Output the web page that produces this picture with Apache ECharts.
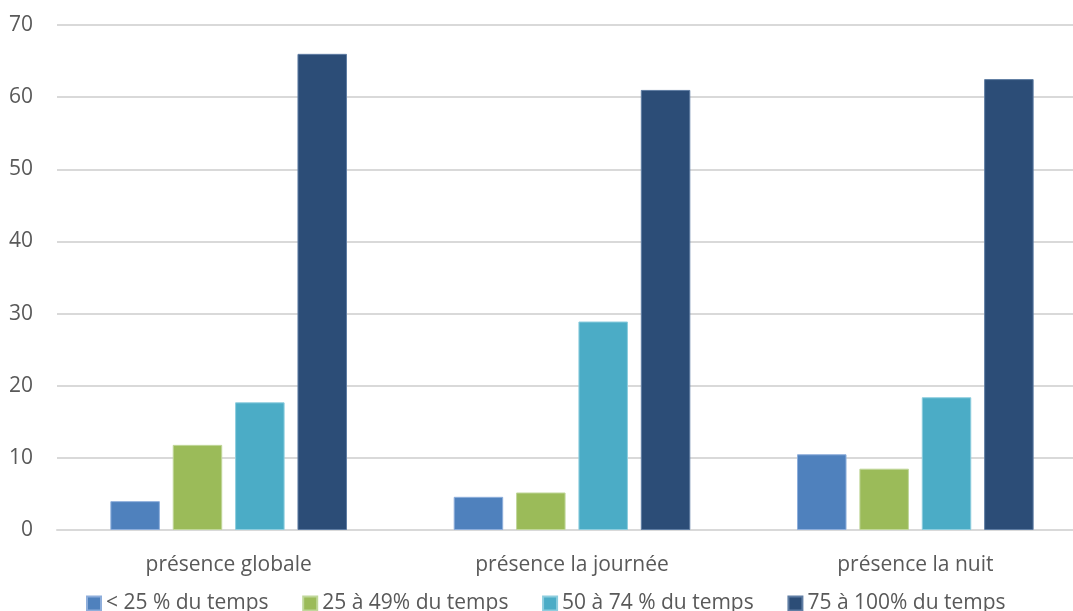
<!DOCTYPE html>
<html>
<head>
<meta charset="utf-8">
<script src="https://cdn.jsdelivr.net/npm/echarts@6/dist/echarts.min.js"></script>
<style>
  html, body { margin: 0; padding: 0; background: #fff; }
  #chart { width: 1073px; height: 611px; }
</style>
</head>
<body>
<div id="chart"></div>
<script>
const categories = ['présence globale', 'présence la journée', 'présence la nuit'];
const seriesNames = ['< 25 % du temps', '25 à 49% du temps', '50 à 74 % du temps', '75 à 100% du temps'];
const under25 = [4.0, 4.6, 10.5];
const from25to49 = [11.8, 5.2, 8.5];
const from50to74 = [17.7, 28.9, 18.4];
const from75to100 = [66.0, 61.0, 62.5];
const yTicks = [0, 10, 20, 30, 40, 50, 60, 70];

const colors = ['#4F81BD', '#9BBB59', '#4BACC6', '#2C4D77'];
const borders = ['#8EAEDB', '#C0D79A', '#8DCDDE', '#5F7DA3'];
const values = [under25, from25to49, from50to74, from75to100];
const font = '"Open Sans", "Noto Sans", sans-serif';

const chart = echarts.init(document.getElementById('chart'), null, { renderer: 'canvas' });
chart.setOption({
  animation: false,
  backgroundColor: '#ffffff',
  textStyle: { fontFamily: font },
  grid: { left: 57, right: -14, top: 25, bottom: 81, containLabel: false, outerBoundsMode: 'none' },
  legend: {
    left: 86,
    top: 593,
    padding: 0,
    itemWidth: 14,
    itemHeight: 14,
    itemGap: 33.7,
    icon: 'rect',
    textStyle: { color: '#595959', fontSize: 21, fontFamily: font },
    data: seriesNames
  },
  xAxis: {
    type: 'category',
    data: categories,
    axisLine: { show: true, lineStyle: { color: '#D9D9D9', width: 2 } },
    axisTick: { show: false },
    axisLabel: { color: '#595959', fontSize: 21, fontFamily: font, margin: 25 }
  },
  yAxis: {
    type: 'value',
    min: yTicks[0],
    max: yTicks[yTicks.length - 1],
    interval: yTicks[1] - yTicks[0],
    axisLine: { show: false },
    axisTick: { show: false },
    splitLine: { lineStyle: { color: '#D9D9D9', width: 2 } },
    axisLabel: { color: '#595959', fontSize: 21, fontFamily: font, margin: 24 }
  },
  series: seriesNames.map((name, i) => ({
    name: name,
    type: 'bar',
    data: values[i],
    barWidth: 49.5,
    barGap: '26%',
    itemStyle: { color: colors[i], borderColor: borders[i], borderWidth: 1 }
  }))
});
</script>
</body>
</html>
